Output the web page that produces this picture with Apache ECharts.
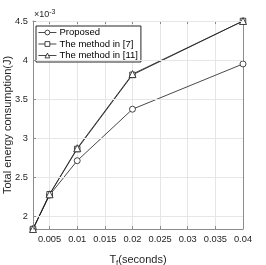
<!DOCTYPE html>
<html><head><meta charset="utf-8">
<script src="https://cdn.jsdelivr.net/npm/echarts@6/dist/echarts.min.js"></script>
<style>html,body{margin:0;padding:0;background:#fff}#c{width:266px;height:265px}</style>
</head><body><div id="c"></div>
<script>
// Data (energy in units of 1e-3 J)
const xValues = [0.002, 0.005, 0.01, 0.02, 0.04];
const proposed = [1.835, 2.27, 2.71, 3.37, 3.95];
const method7 = [1.835, 2.28, 2.86, 3.81, 4.5];
const method11 = [1.835, 2.28, 2.87, 3.82, 4.5];
const xTicks = [0.005, 0.01, 0.015, 0.02, 0.025, 0.03, 0.035, 0.04];
const yTicks = [2, 2.5, 3, 3.5, 4, 4.5];
const seriesNames = ['Proposed', 'The method in [7]', 'The method in [11]'];
const yTitle = 'Total energy consumption(J)';

const chart = echarts.init(document.getElementById('c'), null, {renderer: 'canvas'});
const font = 'Liberation Sans, Arial, sans-serif';
const axisGray = '#8c8c8c';
const textCol = '#262626';
const lineCol = '#1a1a1a';
function pairs(ys) { return xValues.map((x, i) => [x, ys[i]]); }
function mkSeries(name, ys, symbol, size) {
  return {
    name: name, type: 'line', data: pairs(ys), symbol: symbol, symbolSize: size,
    lineStyle: {color: lineCol, width: 0.8},
    itemStyle: {color: '#fff', borderColor: lineCol, borderWidth: 0.8},
    emphasis: {disabled: true}, animation: false
  };
}
const xBase = {
  type: 'value', min: 0.002, max: 0.04,
  axisLine: {show: true, onZero: false, lineStyle: {color: axisGray, width: 1}},
  axisTick: {show: true, inside: true, length: 3, customValues: xTicks, lineStyle: {color: axisGray}},
  splitLine: {show: false}
};
const yBase = {
  type: 'value', min: 1.835, max: 4.5,
  axisLine: {show: true, onZero: false, lineStyle: {color: axisGray, width: 1}},
  axisTick: {show: true, inside: true, length: 3, customValues: yTicks, lineStyle: {color: axisGray}},
  splitLine: {show: false}
};
chart.setOption({
  backgroundColor: '#fff',
  animation: false,
  grid: {left: 33, top: 21, right: 23, bottom: 36, containLabel: false, outerBoundsMode: 'none'},
  legend: {
    data: seriesNames, orient: 'vertical', left: 36, top: 26, z: 3,
    itemWidth: 18, itemHeight: 6, itemGap: 0.5,
    backgroundColor: '#fff', borderColor: '#262626', borderWidth: 1,
    padding: [1, 3, 1, 2],
    itemStyle: {color: '#fff', borderColor: lineCol, borderWidth: 0.8},
    lineStyle: {color: lineCol, width: 0.8},
    textStyle: {fontFamily: font, fontSize: 9.5, lineHeight: 11, color: '#000', padding: [0, 0, 0, -2]}
  },
  xAxis: [
    Object.assign({}, xBase, {
      position: 'bottom',
      axisLabel: {customValues: xTicks, hideOverlap: false, fontFamily: font, fontSize: 9.3, color: textCol, margin: 6,
        formatter: v => String(+v.toFixed(3))},
      splitLine: {show: true, lineStyle: {color: '#e6e6e6', width: 1}},
      name: '{n|T}{s|f}{n|(seconds)}', nameLocation: 'middle', nameGap: 24,
      nameTextStyle: {rich: {n: {fontFamily: font, fontSize: 11, color: textCol},
                             s: {fontFamily: font, fontSize: 8, color: textCol, verticalAlign: 'bottom', padding: [6, 0, 0, 0]}}}
    }),
    Object.assign({}, xBase, {position: 'top', axisLabel: {show: false}})
  ],
  yAxis: [
    Object.assign({}, yBase, {
      position: 'left', z: 20,
      axisLabel: {customValues: yTicks, hideOverlap: false, align: 'right', fontFamily: font, fontSize: 9.3, color: textCol, margin: 5,
        formatter: v => String(+v.toFixed(1))},
      splitLine: {show: true, lineStyle: {color: '#e6e6e6', width: 1}}
    }),
    Object.assign({}, yBase, {position: 'right', axisLabel: {show: false}})
  ],
  graphic: [{
    type: 'text', left: 34, top: 9,
    style: {text: '{a|×10}{b|-3}', rich: {
      a: {fontFamily: font, fontSize: 9, fill: textCol},
      b: {fontFamily: font, fontSize: 7, fill: textCol, verticalAlign: 'top', padding: [0, 0, 5, 0]}
    }}
  }, {
    type: 'text', x: 8, y: 125, rotation: Math.PI / 2,
    style: {text: yTitle, fontFamily: font, fontSize: 11, fill: textCol, align: 'center', verticalAlign: 'middle'}
  }],
  series: [
    mkSeries(seriesNames[0], proposed, 'circle', 6),
    mkSeries(seriesNames[1], method7, 'rect', 5.5),
    mkSeries(seriesNames[2], method11, 'triangle', 7)
  ]
});
</script></body></html>
